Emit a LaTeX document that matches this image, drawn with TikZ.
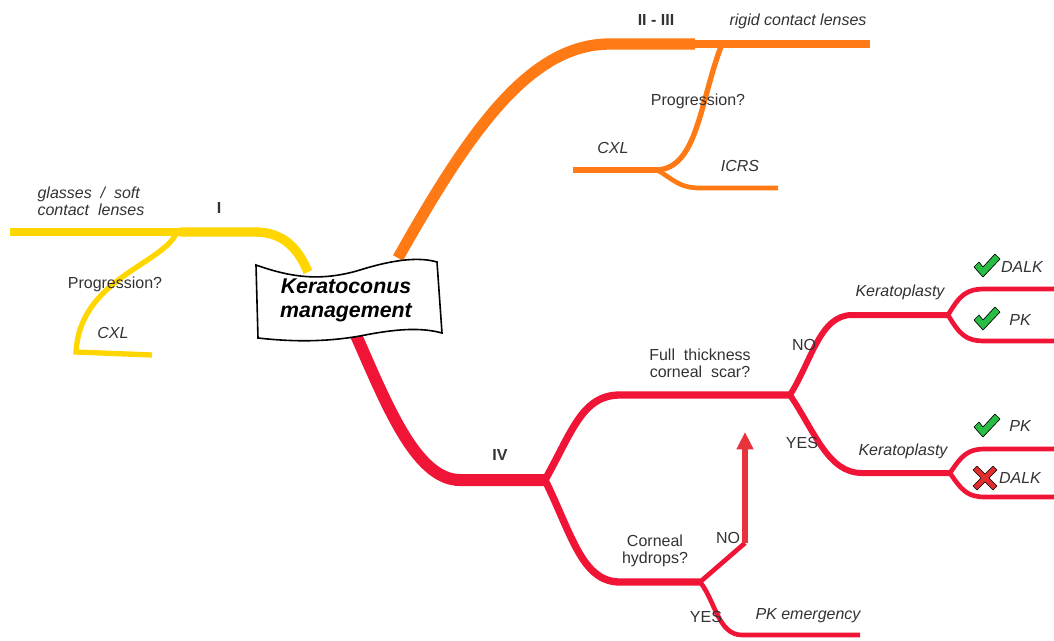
\documentclass[tikz,border=0pt]{standalone}
\usepackage{fontspec}
\setmainfont{Liberation Sans}
\definecolor{yel}{RGB}{255,214,0}
\definecolor{org}{RGB}{255,122,20}
\definecolor{rd}{RGB}{240,20,55}
\definecolor{arr}{RGB}{232,50,60}
\definecolor{txt}{RGB}{50,50,50}
\definecolor{gr}{RGB}{40,190,70}
\definecolor{xr}{RGB}{225,45,45}
\usetikzlibrary{arrows.meta}
\begin{document}
\begin{tikzpicture}[x=0.75pt,y=-0.75pt,
  lbl/.style={text=txt,font=\fontsize{12}{13}\selectfont,inner sep=1pt},
  ilbl/.style={lbl,font=\fontsize{12}{13}\selectfont\itshape},
  blbl/.style={lbl,font=\fontsize{12}{13}\selectfont\bfseries},
  yl/.style={draw=yel,line cap=butt},
  ol/.style={draw=org,line cap=butt},
  rl/.style={draw=rd,line cap=butt},
  chk/.pic={\filldraw[fill=gr,draw=black,line width=0.5pt,line join=round]
     (-13,1) -- (-8,-4) -- (-4,1) -- (8,-12) -- (13,-7) -- (-4,11) -- cycle;},
  crs/.pic={\filldraw[fill=xr,draw=black,line width=0.5pt,line join=round]
     (-12,-8) -- (-8,-12) -- (0,-4) -- (8,-12) -- (12,-8) -- (4,0) -- (12,8) -- (8,12) -- (0,4) -- (-8,12) -- (-12,8) -- (-4,0) -- cycle;}
]
\useasboundingbox (0,0) rectangle (1054,640);
% coordinates
\coordinate (yA) at (10,232);
\coordinate (yB) at (180,232);
\coordinate (yC) at (255,232);
\coordinate (yK) at (308,272);
\coordinate (yD) at (152,355);
\coordinate (oK) at (398,258);
\coordinate (oA) at (610,44);
\coordinate (oB) at (695,44);
\coordinate (oE) at (870,44);
\coordinate (oS) at (722,44);
\coordinate (oJ) at (657,170);
\coordinate (oC) at (573,170);
\coordinate (oI) at (778,188);
\coordinate (rK) at (355,333);
\coordinate (rA) at (460,480);
\coordinate (rB) at (545,480);
\coordinate (rF) at (790,395);
\coordinate (rH) at (700,582);
\coordinate (rK1) at (948,315);
\coordinate (rK2) at (950,473);
\coordinate (rN) at (745,543);
\coordinate (rT) at (745,432);

% yellow
\draw[yl,line width=6pt] (yA) -- (yB);
\draw[yl,line width=7pt] (yB) -- (yC) .. controls (283,232) and (298,248) .. (yK);
\draw[yl,line width=4pt] (176,234) .. controls (160,265) and (80,280) .. (76,352) -- (yD);
% orange
\draw[ol,line width=8.5pt] (oK) .. controls (470,130) and (530,44) .. (oA) -- (oB);
\draw[ol,line width=6pt] (oB) -- (oE);
\draw[ol,line width=4pt] (oS) .. controls (700,100) and (698,168) .. (oJ);
\draw[ol,line width=4.5pt] (oC) -- (oJ);
\draw[ol,line width=3.5pt] (oJ) .. controls (672,178) and (678,188) .. (700,188) -- (oI);
% red
\draw[rl,line width=9pt] (rK) .. controls (385,400) and (415,480) .. (rA) -- (rB);
\draw[rl,line width=5.5pt,line join=bevel] (rB) .. controls (572,432) and (582,395) .. (620,395) -- (rF);
\draw[rl,line width=5.5pt] (rB) .. controls (572,535) and (582,582) .. (620,582) -- (rH);
\draw[rl,line width=4.5pt] (rF) .. controls (812,360) and (820,315) .. (852,315) -- (rK1);
\draw[rl,line width=4.5pt] (rF) .. controls (815,432) and (828,473) .. (862,473) -- (rK2);
\draw[rl,line width=3.5pt] (rK1) .. controls (960,295) and (966,289) .. (985,289) -- (1054,289);
\draw[rl,line width=3.5pt] (rK1) .. controls (960,335) and (966,341) .. (985,341) -- (1054,341);
\draw[rl,line width=3.5pt] (rK2) .. controls (962,455) and (968,449) .. (985,449) -- (1054,449);
\draw[rl,line width=3.5pt] (rK2) .. controls (962,491) and (968,497) .. (985,497) -- (1054,497);
\draw[rl,line width=3.5pt] (rH) -- (rN);
\draw[draw=arr,line width=4pt,-{Triangle[width=12pt,length=13pt]}] (rN) -- (rT);
\draw[rl,line width=3.5pt] (rH) .. controls (715,600) and (718,635) .. (742,635) -- (860,635);

% central flag
\filldraw[fill=white,draw=black,line width=1.2pt]
  (256,265) .. controls (290,277) and (320,282) .. (360,270)
  .. controls (395,259) and (420,257) .. (437,262)
  -- (442,333)
  .. controls (420,327) and (395,329) .. (360,336)
  .. controls (320,343) and (285,341) .. (258,338) -- cycle;
\node[text=black,font=\fontsize{16}{18}\selectfont\bfseries\itshape,align=center] (km) at (346,300) {Keratoconus\\management};

% labels
\node[ilbl,align=left,anchor=west] (gl) at (36,201) {glasses~~/~~soft\\contact~~lenses};
\node[blbl] (s1) at (219,208) {I};
\node[lbl] (p1) at (115,284) {Progression?};
\node[ilbl] (c1) at (113,333) {CXL};
\node[blbl] (s2) at (656,20) {II - III};
\node[ilbl] (rc) at (798,21) {rigid contact lenses};
\node[lbl] (p2) at (698,101) {Progression?};
\node[ilbl] (c2) at (613,148) {CXL};
\node[ilbl] (ic) at (740,166) {ICRS};
\node[blbl] (s4) at (500,455) {IV};
\node[lbl,align=center] (fs) at (700,363) {Full~~thickness\\corneal~~scar?};
\node[lbl] (no1) at (804,345) {NO};
\node[lbl] (yes1) at (802,443) {YES};
\node[ilbl] (kp1) at (900,292) {Keratoplasty};
\node[ilbl] (kp2) at (903,451) {Keratoplasty};
\node[lbl,align=center] (ch) at (655,551) {Corneal\\hydrops?};
\node[lbl] (no2) at (728,538) {NO};
\node[lbl] (yes2) at (706,617) {YES};
\node[ilbl] (pke) at (808,616) {PK emergency};
\node[ilbl] (d1) at (1022,267) {DALK};
\node[ilbl] (pk1) at (1020,320) {PK};
\node[ilbl] (pk2) at (1020,426) {PK};
\node[ilbl] (d2) at (1020,478) {DALK};
\pic at (987,266) {chk};
\pic at (987,319) {chk};
\pic at (987,426) {chk};
\pic at (985,478) {crs};
\end{tikzpicture}
\end{document}
